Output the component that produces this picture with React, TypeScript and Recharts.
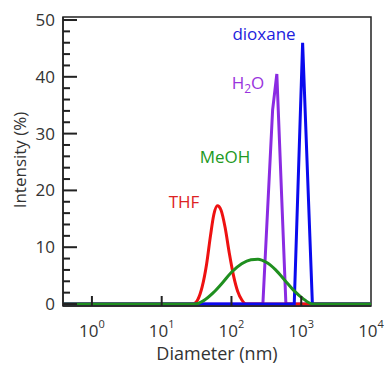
import React from "react";
import { LineChart, Line, XAxis, YAxis, ReferenceArea } from "recharts";

// diameter (nm) / intensity (%)
const xMin = 0.385;
const xMax = 10000;

const thfData = [
  { x: xMin, y: 0 },
  { x: 28, y: 0 },
  { x: 33, y: 0.8 },
  { x: 38, y: 3 },
  { x: 44, y: 7 },
  { x: 50, y: 12 },
  { x: 56, y: 15.8 },
  { x: 63, y: 17.3 },
  { x: 71, y: 16.5 },
  { x: 81, y: 13.5 },
  { x: 93, y: 9 },
  { x: 107, y: 5 },
  { x: 123, y: 2.2 },
  { x: 141, y: 0.7 },
  { x: 162, y: 0 },
  { x: xMax, y: 0 },
];

const meohData = [
  { x: xMin, y: 0 },
  { x: 30, y: 0 },
  { x: 40, y: 0.6 },
  { x: 55, y: 2 },
  { x: 75, y: 3.8 },
  { x: 100, y: 5.6 },
  { x: 140, y: 7.1 },
  { x: 190, y: 7.8 },
  { x: 240, y: 7.9 },
  { x: 320, y: 7.3 },
  { x: 430, y: 6 },
  { x: 580, y: 4.2 },
  { x: 780, y: 2.4 },
  { x: 1050, y: 1 },
  { x: 1450, y: 0 },
  { x: xMax, y: 0 },
];

const waterData = [
  { x: xMin, y: 0 },
  { x: 282, y: 0 },
  { x: 389, y: 34.2 },
  { x: 447, y: 40.5 },
  { x: 603, y: 0 },
  { x: xMax, y: 0 },
];

const dioxaneData = [
  { x: xMin, y: 0 },
  { x: 794, y: 0 },
  { x: 1047, y: 46 },
  { x: 1445, y: 0 },
  { x: xMax, y: 0 },
];

const xTicks = [1, 10, 100, 1000, 10000];
const yMajorTicks = [0, 10, 20, 30, 40, 50];
const yMinorTicks = [2, 4, 6, 8, 12, 14, 16, 18, 22, 24, 26, 28, 32, 34, 36, 38, 42, 44, 46, 48];
const yDomain = [-0.35, 50.53];

const W = 387;
const H = 370;
const margin = { top: 17, right: 16, left: 0, bottom: 0 };
const yAxisWidth = 63;
const xAxisHeight = 64;

const font = "'Open Sans', sans-serif";
const axisColor = "#222";

function DecadeTick(props: any) {
  const x = Number(props.x);
  const y = Number(props.y);
  const exp = Math.round(Math.log10(Number(props.payload.value)));
  return (
    <g>
      {exp < 4 && <rect x={x - 1} y={y - 10} width={2} height={10} fill={axisColor} />}
      <text x={x} y={y + 31} textAnchor="middle" fontSize={17} fill="#333" fontFamily={font}>
        10
        <tspan dy={-9} fontSize={11}>
          {exp}
        </tspan>
      </text>
    </g>
  );
}

function IntensityTick(props: any) {
  const x = Number(props.x);
  const y = Number(props.y);
  const value = Number(props.payload.value);
  const major = value % 10 === 0;
  return (
    <g>
      <rect x={x} y={y - 1} width={major ? 14 : 7} height={2} fill={axisColor} />
      {major && (
        <text x={x - 8} y={y} dy="0.35em" textAnchor="end" fontSize={17} fill="#333" fontFamily={font}>
          {value}
        </text>
      )}
    </g>
  );
}

const yTicks = [...yMajorTicks, ...yMinorTicks].sort((a, b) => a - b);

export default function App() {
  return (
    <div style={{ position: "absolute", left: 0, top: 0, width: W, height: H, background: "#fff" }}>
      <LineChart width={W} height={H} margin={margin}>
        <ReferenceArea
          x1={xMin}
          x2={xMax}
          y1={yDomain[0]}
          y2={yDomain[1]}
          fill="none"
          stroke={axisColor}
          strokeWidth={1.5}
        />
        <Line data={waterData} dataKey="y" type="linear" stroke="#8a2be2" strokeWidth={3} dot={false} isAnimationActive={false} />
        <Line data={thfData} dataKey="y" type="monotone" stroke="#ee1111" strokeWidth={3} dot={false} isAnimationActive={false} />
        <Line data={dioxaneData} dataKey="y" type="linear" stroke="#0a0aee" strokeWidth={3} dot={false} isAnimationActive={false} />
        <Line data={meohData} dataKey="y" type="monotone" stroke="#1f8f1f" strokeWidth={3} dot={false} isAnimationActive={false} />
        <YAxis
          dataKey="y"
          type="number"
          domain={yDomain}
          ticks={yTicks}
          interval={0}
          allowDataOverflow
          width={yAxisWidth}
          tickSize={0}
          tickMargin={0}
          tickLine={false}
          axisLine={{ stroke: axisColor, strokeWidth: 1.5 }}
          tick={(p: any) => <IntensityTick {...p} />}
        />
        <XAxis
          dataKey="x"
          type="number"
          scale="log"
          domain={[xMin, xMax]}
          ticks={xTicks}
          interval={0}
          allowDataOverflow
          height={xAxisHeight}
          tickSize={0}
          tickMargin={0}
          tickLine={false}
          axisLine={{ stroke: axisColor, strokeWidth: 1.5 }}
          tick={(p: any) => <DecadeTick {...p} />}
        />
      </LineChart>
      <svg
        width={W}
        height={H}
        style={{ position: "absolute", left: 0, top: 0, pointerEvents: "none" }}
        fontFamily={font}
      >
        <text x={264} y={40} textAnchor="middle" fontSize={17} fill="#2222dd">dioxane</text>
        <text x={248} y={89} textAnchor="middle" fontSize={17} fill="#9933dd">
          H<tspan dy={4} fontSize={12}>2</tspan><tspan dy={-4}>O</tspan>
        </text>
        <text x={225} y={163} textAnchor="middle" fontSize={17} fill="#229922">MeOH</text>
        <text x={184} y={208} textAnchor="middle" fontSize={17} fill="#dd2222">THF</text>
        <text x={217} y={360} textAnchor="middle" fontSize={18} fill="#333">Diameter (nm)</text>
        <text x={26} y={160} textAnchor="middle" fontSize={17} fill="#333" transform="rotate(-90 26 160)">
          Intensity (%)
        </text>
      </svg>
    </div>
  );
}
